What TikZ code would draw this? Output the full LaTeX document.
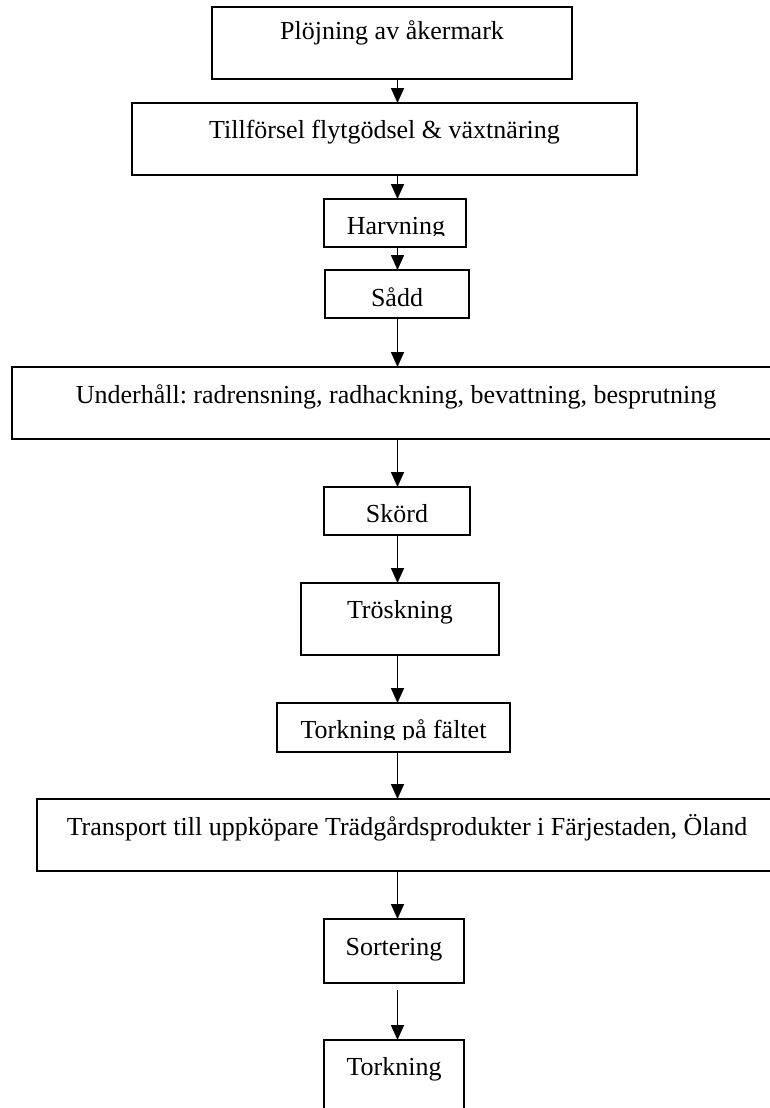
\documentclass[tikz,border=0pt]{standalone}
\usepackage{fontspec}
\setmainfont{Liberation Serif}
\usetikzlibrary{arrows.meta}
\frenchspacing
\tikzset{
  flowbox/.style={draw, line width=1.6pt, inner sep=0pt, outer sep=0pt, anchor=north west,
    font=\fontsize{26}{30}\selectfont},
  flowtext/.style={inner sep=0pt, outer sep=0pt, anchor=base, font=\fontsize{26}{30}\selectfont},
  flowarrow/.style={line width=1.6pt, -{Triangle[length=15pt,width=13pt]}},
}
\begin{document}
\begin{tikzpicture}[x=1pt,y=-1pt]
\useasboundingbox (0,0) rectangle (770,1108);
\clip (0,0) rectangle (770,1108);
\coordinate (ax) at (397.5,0);
\node[flowbox, minimum width=360, minimum height=72, text height=33, text depth=39] (b1) at (212,7) {Plöjning av åkermark};
\node[flowbox, minimum width=505, minimum height=72, text height=35, text depth=37] (b2) at (132,103) {Tillförsel flytgödsel \& växtnäring};
\node[flowbox, minimum width=142, minimum height=48] (b3) at (324,199) {};
\begin{scope}
\clip (b3.north west) rectangle ([yshift=11.5pt]b3.south east);
\node[flowtext] (t3) at (396,234) {Harvning};
\end{scope}
\node[flowbox, minimum width=144, minimum height=48, text height=36, text depth=12] (b4) at (325,270) {Sådd};
\node[flowbox, minimum width=768, minimum height=72, text height=36, text depth=36] (b5) at (12,367) {Underhåll: radrensning, radhackning, bevattning, besprutning};
\node[flowbox, minimum width=146, minimum height=48, text height=35, text depth=13] (b6) at (324,487) {Skörd};
\node[flowbox, minimum width=198, minimum height=72, text height=35, text depth=37] (b7) at (301,583) {Tröskning};
\node[flowbox, minimum width=233, minimum height=49] (b8) at (277,703) {};
\begin{scope}
\clip (b8.north west) rectangle ([yshift=12.5pt]b8.south east);
\node[flowtext] (t8) at (393.5,738) {Torkning på fältet};
\end{scope}
\node[flowbox, minimum width=740, minimum height=72, text height=36, text depth=36] (b9) at (37,799) {Transport till uppköpare Trädgårdsprodukter i Färjestaden, Öland};
\node[flowbox, minimum width=140, minimum height=64, text height=36, text depth=28] (b10) at (324,919) {Sortering};
\node[flowbox, minimum width=140, minimum height=80, text height=35, text depth=45] (b11) at (324,1040) {Torkning};
\draw[flowarrow] (b1.south -| ax) -- (b2.north -| ax);
\draw[flowarrow] (b2.south -| ax) -- (b3.north -| ax);
\draw[flowarrow] (b3.south -| ax) -- (b4.north -| ax);
\draw[flowarrow] (b4.south -| ax) -- (b5.north -| ax);
\draw[flowarrow] (b5.south -| ax) -- (b6.north -| ax);
\draw[flowarrow] (b6.south -| ax) -- (b7.north -| ax);
\draw[flowarrow] (b7.south -| ax) -- (b8.north -| ax);
\draw[flowarrow] (b8.south -| ax) -- (b9.north -| ax);
\draw[flowarrow] (b9.south -| ax) -- (b10.north -| ax);
\draw[flowarrow] ([yshift=-7pt]b10.south -| ax) -- (b11.north -| ax);
\end{tikzpicture}
\end{document}
